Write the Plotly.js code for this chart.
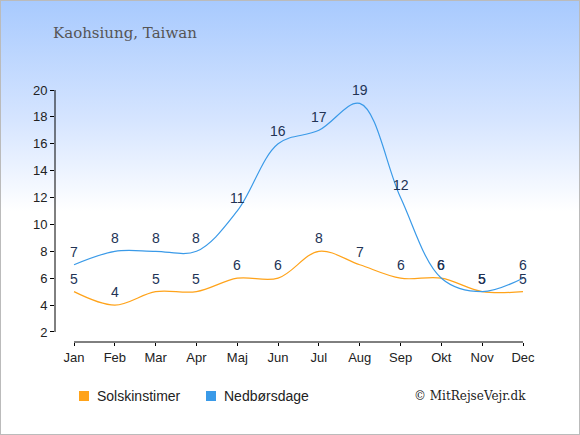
<!DOCTYPE html>
<html><head><meta charset="utf-8">
<script src="https://cdn.plot.ly/plotly-3.0.1.min.js"></script>
<style>
html,body{margin:0;padding:0;}
#wrap{position:relative;width:578px;height:433px;border:1px solid #bbbbbb;background:linear-gradient(#a8cafe 0px,#d6e5ff 120px,#ffffff 210px,#ffffff 435px);}
#chart{width:578px;height:433px;}
</style></head><body>
<div id="wrap"><div id="chart"></div></div>
<script>
const months = ["Jan","Feb","Mar","Apr","Maj","Jun","Jul","Aug","Sep","Okt","Nov","Dec"];
const sunHours = [5,4,5,5,6,6,8,7,6,6,5,5];
const rainDays = [7,8,8,8,11,16,17,19,12,6,5,6];
const yTicks = [2,4,6,8,10,12,14,16,18,20];
const xIdx = months.map((m,i)=>i);

const FONT = "Liberation Sans, Arial, sans-serif";
const labelFont = {family:FONT, size:14, color:"#223355"};
const traces = [
  {x:xIdx, y:sunHours, name:"Solskinstimer", mode:"lines",
   line:{color:"#ffa31a", width:1.2, shape:"spline", smoothing:1}, hoverinfo:"none"},
  {x:xIdx, y:rainDays, name:"Nedbørsdage", mode:"lines",
   line:{color:"#3a9ae8", width:1.2, shape:"spline", smoothing:1}, hoverinfo:"none"}
];
const valueLabels = [];
[sunHours, rainDays].forEach(series => {
  series.forEach((v,i) => valueLabels.push({x:i, y:v, xref:"x", yref:"y", text:String(v), showarrow:false,
    yshift:13, xanchor:"center", yanchor:"middle", font:labelFont}));
});
const layout = {
  width:578, height:433,
  margin:{l:54, r:48, t:89, b:92},
  paper_bgcolor:"rgba(0,0,0,0)", plot_bgcolor:"rgba(0,0,0,0)",
  showlegend:false,
  title:{text:"Kaohsiung, Taiwan", x:52/578, xanchor:"left", y:1-32/433, yanchor:"middle",
         font:{family:"DejaVu Serif, Georgia, serif", size:15, color:"#555555"}},
  xaxis:{range:[-0.466, 11.196], tickvals:xIdx, ticktext:months, showgrid:false, zeroline:false,
         showline:false, ticks:"outside", ticklen:3, tickcolor:"#000", tickwidth:1,
         tickfont:{family:FONT, size:13, color:"#222"}, fixedrange:true},
  yaxis:{range:[1.253, 20], tickvals:yTicks, showgrid:false, zeroline:false, showline:false,
         ticks:"outside", ticklen:4, tickcolor:"#000", tickwidth:1,
         tickfont:{family:FONT, size:13, color:"#222"}, fixedrange:true},
  shapes:[
    {type:"line", xref:"x", yref:"paper", x0:0, x1:11, y0:0, y1:0, line:{color:"#000", width:1}},
    {type:"line", xref:"paper", yref:"y", x0:0, x1:0, y0:2, y1:20, line:{color:"#000", width:1}},
    {type:"rect", xref:"paper", yref:"paper", x0:(78-54)/476, x1:(88-54)/476, y0:-(393-344)/252, y1:-(403-344)/252,
     fillcolor:"#ffa31a", line:{width:0}},
    {type:"rect", xref:"paper", yref:"paper", x0:(205-54)/476, x1:(215-54)/476, y0:-(393-344)/252, y1:-(403-344)/252,
     fillcolor:"#3a9ae8", line:{width:0}}
  ],
  annotations: valueLabels.concat([
    {text:"Solskinstimer", xref:"paper", yref:"paper", x:(94-54)/476, y:-(398-344)/252, xanchor:"left", yanchor:"middle",
     showarrow:false, font:{family:FONT, size:14, color:"#222"}},
    {text:"Nedbørsdage", xref:"paper", yref:"paper", x:(221-54)/476, y:-(398-344)/252, xanchor:"left", yanchor:"middle",
     showarrow:false, font:{family:FONT, size:14, color:"#222"}},
    {text:"© MitRejseVejr.dk", xref:"paper", yref:"paper", x:(527-54)/476, y:-(398-344)/252, xanchor:"right", yanchor:"middle",
     showarrow:false, font:{family:"DejaVu Serif, Georgia, serif", size:12, color:"#222"}}
  ])
};
Plotly.newPlot("chart", traces, layout, {displayModeBar:false, staticPlot:true});
</script>
</body></html>
